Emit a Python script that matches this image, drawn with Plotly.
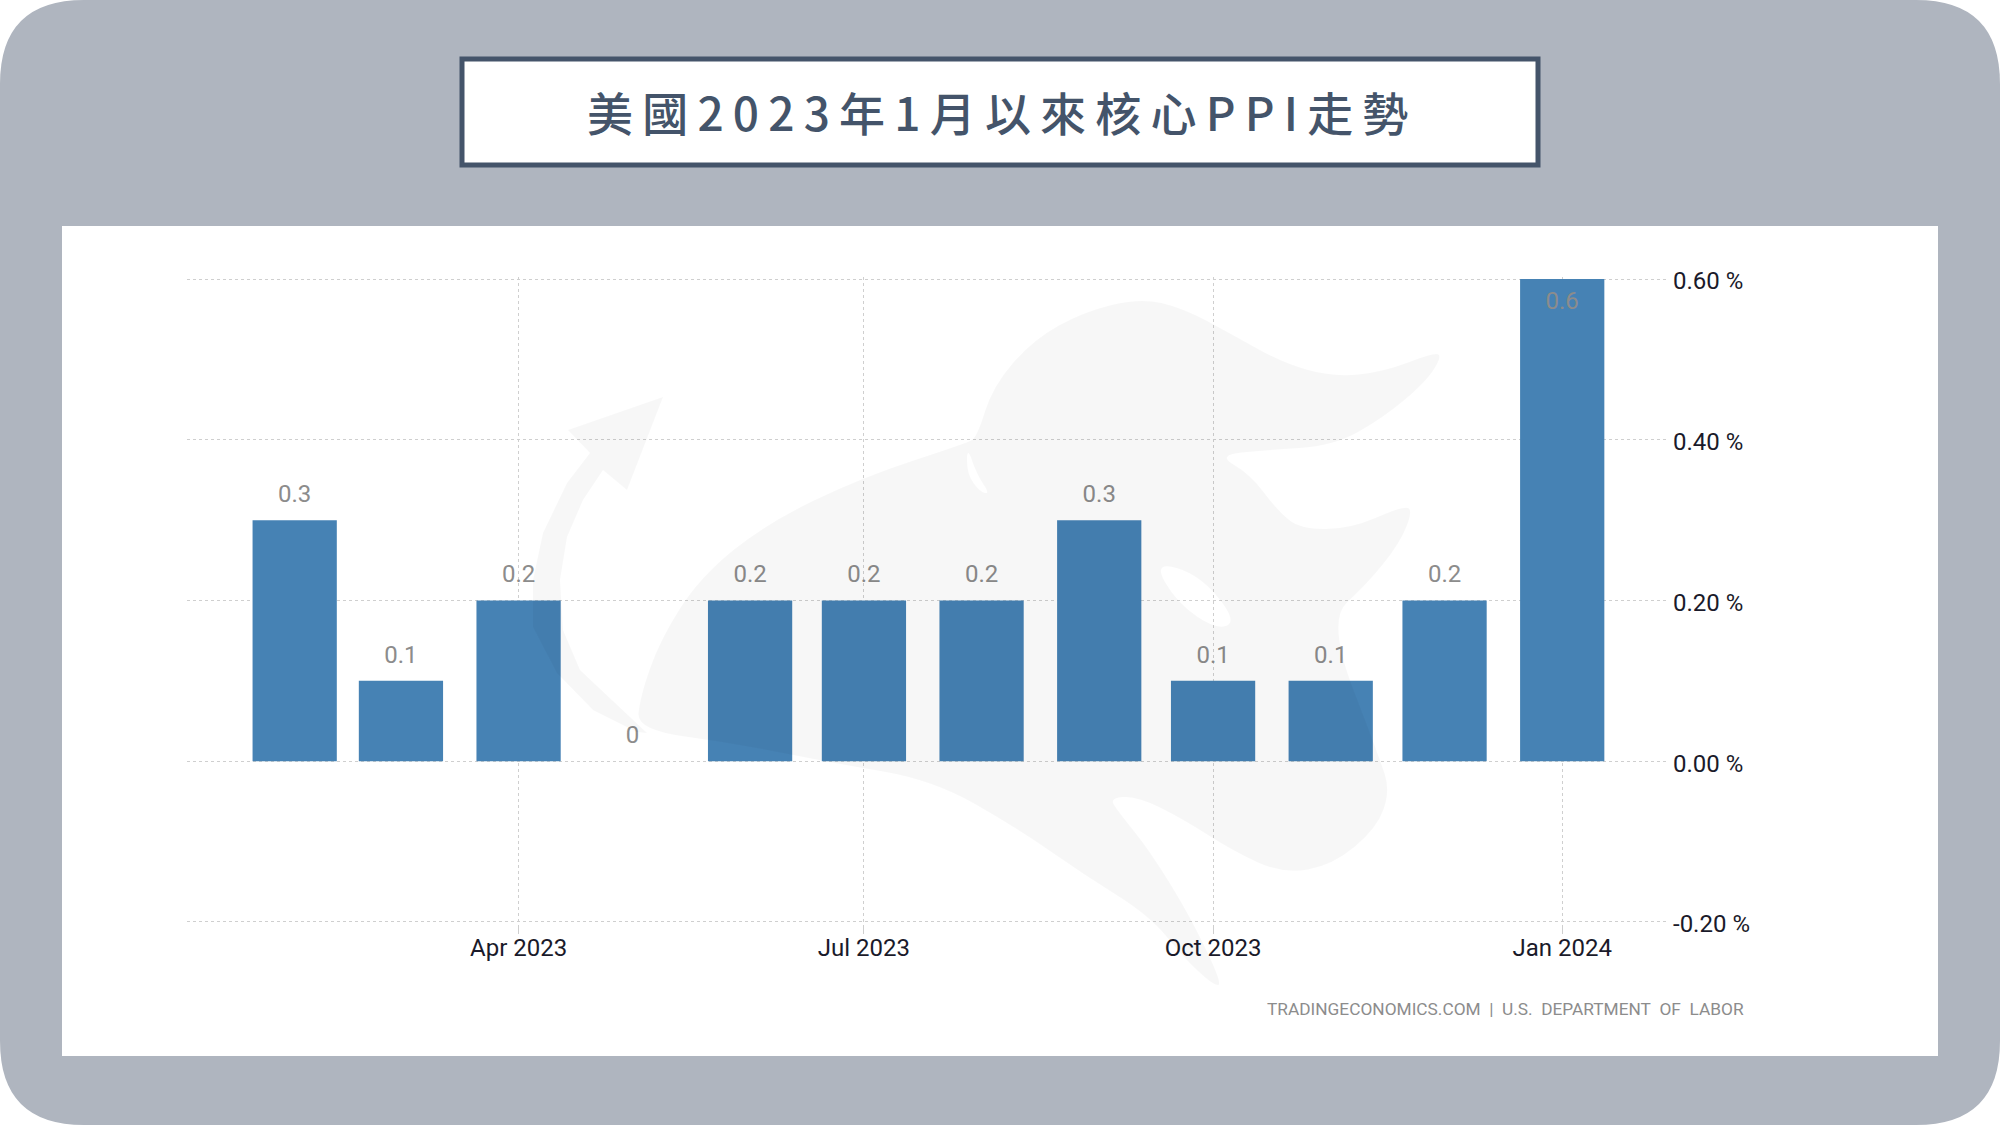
import plotly.graph_objects as go

# monthly core PPI change, % m/m
dates = ['2023-02-01', '2023-03-01', '2023-04-01', '2023-05-01', '2023-06-01', '2023-07-01',
         '2023-08-01', '2023-09-01', '2023-10-01', '2023-11-01', '2023-12-01', '2024-01-01']
values = [0.3, 0.1, 0.2, 0, 0.2, 0.2, 0.2, 0.3, 0.1, 0.1, 0.2, 0.6]
labels = ['0.3', '0.1', '0.2', '0', '0.2', '0.2', '0.2', '0.3', '0.1', '0.1', '0.2', '0.6']
x_ticks = ['2023-04-01', '2023-07-01', '2023-10-01', '2024-01-01']
y_ticks = [-0.2, 0, 0.2, 0.4, 0.6]
y_tick_labels = ['-0.20 %', '0.00 %', '0.20 %', '0.40 %', '0.60 %']
title = '美國2023年1月以來核心PPI走勢'
source = 'TRADINGECONOMICS.COM  |  U.S.  DEPARTMENT  OF  LABOR'

W, H = 2000, 1125
L, R, T, B = 187, 1668, 277, 924
DAY_MS = 86400000
SLATE = '#44546a'
FONT = 'Roboto, Liberation Sans'


# figure pixels to paper coordinates, so the frame can sit outside the plot area
def px(x):
    return (x - L) / (R - L)


def py(y):
    return (B - y) / (B - T)


def rounded(x0, y0, x1, y1, r):
    return (f'M{px(x0 + r)},{py(y0)} L{px(x1 - r)},{py(y0)} Q{px(x1)},{py(y0)} {px(x1)},{py(y0 + r)} '
            f'L{px(x1)},{py(y1 - r)} Q{px(x1)},{py(y1)} {px(x1 - r)},{py(y1)} '
            f'L{px(x0 + r)},{py(y1)} Q{px(x0)},{py(y1)} {px(x0)},{py(y1 - r)} '
            f'L{px(x0)},{py(y0 + r)} Q{px(x0)},{py(y0)} {px(x0 + r)},{py(y0)} Z')


def poly(points):
    return 'M' + ' L'.join(f'{px(x)},{py(y)}' for x, y in points) + ' Z'


# closed curve through the midpoints of the outline, so the logo is not angular
def blob(points):
    n = len(points)
    mid = [((points[i][0] + points[(i + 1) % n][0]) / 2, (points[i][1] + points[(i + 1) % n][1]) / 2)
           for i in range(n)]
    path = f'M{px(mid[-1][0])},{py(mid[-1][1])}'
    for i in range(n):
        path += f' Q{px(points[i][0])},{py(points[i][1])} {px(mid[i][0])},{py(mid[i][1])}'
    return path + ' Z'


# faint bull and arrow logo behind the chart, traced by eye
bull = [(967, 443), (863, 477), (767, 523), (700, 577), (660, 640), (640, 697), (637, 730), (733, 743),
        (833, 763), (933, 780), (1017, 828), (1083, 874), (1150, 916), (1183, 957), (1213, 985), (1223, 985),
        (1190, 916), (1150, 851), (1117, 810), (1110, 798), (1137, 796), (1183, 819), (1233, 851), (1283, 874),
        (1333, 865), (1377, 828), (1390, 791), (1380, 759), (1327, 621), (1367, 584), (1400, 543), (1413, 510),
        (1403, 506), (1350, 529), (1300, 529), (1277, 510), (1250, 474), (1217, 455), (1267, 450), (1333, 446),
        (1383, 418), (1427, 381), (1443, 354), (1430, 354), (1383, 372), (1333, 377), (1283, 363), (1233, 335),
        (1183, 308), (1140, 298), (1083, 312), (1033, 340), (993, 386), (977, 437)]
bull_eye = [(1153, 561), (1200, 575), (1237, 621), (1217, 630), (1177, 603)]
bull_notch = [(967, 446), (977, 475), (990, 494), (980, 492), (967, 474)]
arrow = [(663, 397), (568, 430), (590, 453), (567, 483), (543, 533), (533, 580), (533, 627), (557, 673),
         (593, 710), (637, 732), (647, 733), (580, 670), (563, 630), (560, 580), (567, 537), (583, 500),
         (603, 470), (627, 490)]

fig = go.Figure()
fig.add_trace(go.Bar(x=dates, y=values, width=22.2 * DAY_MS, marker=dict(color='#4682b4', line_width=0)))
fig.add_trace(go.Scatter(
    x=dates, y=values, text=labels, mode='markers+text',
    textposition=['bottom center' if v == max(values) else 'top center' for v in values],
    marker=dict(size=18, opacity=0),
    textfont=dict(family=FONT, size=24, color='#8c8c8c'),
    cliponaxis=False,
))

shapes = [
    dict(type='path', path=rounded(0, 0, W, H, 84), xref='paper', yref='paper', layer='below',
         fillcolor='#afb5bf', line_width=0),
    dict(type='rect', x0=px(62), x1=px(1938), y0=py(226), y1=py(1056), xref='paper', yref='paper', layer='below',
         fillcolor='white', line_width=0),
    dict(type='rect', x0=px(462), x1=px(1538), y0=py(59), y1=py(165), xref='paper', yref='paper', layer='below',
         fillcolor='white', line=dict(color=SLATE, width=5)),
    dict(type='path', path=blob(bull) + ' ' + blob(bull_eye) + ' ' + blob(bull_notch) + ' ' + poly(arrow),
         xref='paper', yref='paper', layer='above', fillcolor='rgba(0,0,0,0.032)', line_width=0),
]

annotations = [
    dict(x=px(998), y=py(111), xref='paper', yref='paper', showarrow=False, xanchor='center', yanchor='middle',
         text='\u2009'.join(title), font=dict(family='Noto Sans CJK TC', size=46, color=SLATE, weight=500)),
    dict(x=px(1746), y=py(1009), xref='paper', yref='paper', showarrow=False, xanchor='right', yanchor='middle',
         text=source.replace('  ', '\u00a0\u00a0'), font=dict(family=FONT, size=17.3, color='#8c8c8c')),
]

fig.update_layout(
    width=W, height=H,
    margin=dict(l=L, r=W - R, t=T, b=H - B),
    paper_bgcolor='white', plot_bgcolor='rgba(0,0,0,0)',
    showlegend=False,
    shapes=shapes, annotations=annotations,
    xaxis=dict(
        type='date', range=['2023-01-03 15:00', '2024-01-28 21:00'],
        tickmode='array', tickvals=x_ticks, tickformat='%b %Y',
        showgrid=True, gridcolor='#cfcfcf', griddash='dot', gridwidth=1,
        ticks='outside', ticklen=9, tickcolor='#cfcfcf', zeroline=False, showline=False,
        ticklabelstandoff=-7,
        tickfont=dict(family=FONT, size=24, color='#1a1a2a'),
    ),
    yaxis=dict(
        side='right', range=[-0.2025, 0.6025], tickmode='array', tickvals=y_ticks, ticktext=y_tick_labels,
        showgrid=True, gridcolor='#cfcfcf', griddash='dot', gridwidth=1,
        zeroline=False, showline=False, ticks='',
        ticklabelstandoff=4, ticklabelshift=2,
        tickfont=dict(family=FONT, size=24, color='#1a1a2a'),
    ),
)

fig.write_html('out.html', config={'displayModeBar': False}, post_script="document.body.style.margin='0';")
